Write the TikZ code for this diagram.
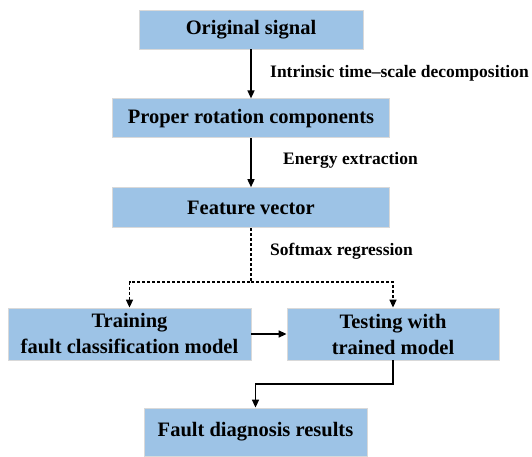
\documentclass[tikz,border=0pt]{standalone}
\usepackage{fontspec}
\setmainfont{Liberation Serif}
\usetikzlibrary{arrows.meta,positioning}
\definecolor{boxblue}{HTML}{9DC3E6}
\tikzset{box/.style={fill=boxblue,draw=black!15,line width=0.8pt,align=center,inner sep=0pt,minimum height=39pt,font=\fontsize{20.5}{26}\selectfont\bfseries},arrow/.style={-{Triangle[length=8pt,width=7pt]},line width=1.5pt},dasharrow/.style={arrow,dash pattern=on 3pt off 2pt},note/.style={anchor=west,inner sep=0pt,font=\fontsize{17.5}{20}\selectfont\bfseries}}

\begin{document}
\begin{tikzpicture}[x=1pt,y=-1pt,node distance=49pt]
\useasboundingbox (0,0) rectangle (532,456);
\node[box,minimum width=224pt] (orig) at (251,29.5) {Original signal};
\node[box,minimum width=277pt,below=of orig] (prc) {Proper rotation components};
\node[box,minimum width=277pt,minimum height=40pt,below=of prc] (feat) {Feature vector};
\node[box,minimum width=243pt,minimum height=52pt] (train) at (129.5,334) {Training\\fault classification model};
\node[box,minimum width=212pt,minimum height=52pt] (test) at (393,334) {Testing with\\trained model};
\node[box,minimum width=223pt,minimum height=48pt] (fault) at (255.5,432) {Fault diagnosis results};
\coordinate (split) at (251,282);
\coordinate (bend) at (393,384);
\draw[arrow] (orig.south) -- (orig.south |- prc.north);
\draw[arrow] (prc.south) -- (prc.south |- feat.north);
\draw[dasharrow] (feat.south) -- (split) -| (train.north);
\draw[dasharrow] (split) -| (test.north);
\draw[arrow] (train.east) -- (test.west);
\draw[arrow] (test.south) -- (bend) -| (fault.north);
\node[note] at (270,73) {Intrinsic time--scale decomposition};
\node[note] at (283,160) {Energy extraction};
\node[note] at (270,251) {Softmax regression};
\end{tikzpicture}
\end{document}
